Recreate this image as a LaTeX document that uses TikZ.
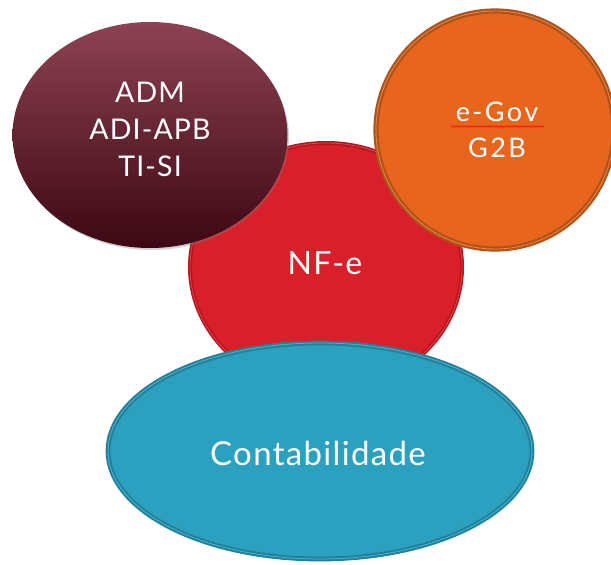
\documentclass[tikz,border=0pt]{standalone}
\usepackage{fontspec}
\setmainfont{Lato}[LetterSpace=4]
\newfontfamily\widefont{Lato}[LetterSpace=9]
\usetikzlibrary{shapes.geometric,shadows,decorations.pathmorphing}
\definecolor{redfill}{HTML}{D91F29}
\definecolor{redline}{HTML}{B5161E}
\definecolor{redlight}{HTML}{E0414A}
\definecolor{maroontop}{HTML}{8E4253}
\definecolor{maroonbot}{HTML}{3C0713}
\definecolor{orangefill}{HTML}{E8651E}
\definecolor{orangeline}{HTML}{B0531A}
\definecolor{orangelight}{HTML}{EE8447}
\definecolor{tealfill}{HTML}{2BA1BF}
\definecolor{tealline}{HTML}{21809A}
\definecolor{teallight}{HTML}{4DB3CC}
\tikzset{
  blob/.style={ellipse, inner sep=0pt},
  lbl/.style={text=white, align=center, inner sep=0pt},
}
\begin{document}
\begin{tikzpicture}[x=1pt,y=-1pt]
\useasboundingbox (0,0) rectangle (611,565);
% red circle (behind)
\node[blob, fill=redfill, draw=redline, line width=1.6pt, double=redlight, double distance=0.8pt,
  minimum width=272pt, minimum height=248pt] (red) at (326,267) {};
% maroon
\node[blob, top color=maroontop, bottom color=maroonbot,
  drop shadow={opacity=0.35, shadow xshift=1.5pt, shadow yshift=-2pt},
  minimum width=275pt, minimum height=226pt] (adm) at (150,135) {};
% orange
\node[blob, fill=orangefill, draw=orangeline, line width=2.2pt, double=orangelight, double distance=0.8pt,
  minimum width=238pt, minimum height=238pt] (gov) at (495,130) {};
% teal
\node[blob, fill=tealfill, draw=tealline, line width=2pt, double=teallight, double distance=0.8pt,
  minimum width=424pt, minimum height=216pt] (cont) at (320,451) {};
% labels
\node[lbl, font=\fontsize{28.5}{37}\selectfont] (admtxt) at (150,129) {ADM\\ADI-APB\\TI-SI};
\node[lbl, font=\widefont\fontsize{27}{36}\selectfont] (govtxt) at (497,130) {e-Gov\\G2B};
\node[lbl, font=\fontsize{32}{38}\selectfont] (nfetxt) at (325,263) {NF-e};
\node[lbl, font=\fontsize{33}{38}\selectfont] (conttxt) at (318,453) {Contabilidade};
% spell-check squiggle under e-Gov
\coordinate (sqa) at (451,126.5);
\coordinate (sqb) at (544,126.5);
\draw[red, line width=0.5pt, decorate, decoration={snake, segment length=2.5pt, amplitude=0.7pt}] (sqa) -- (sqb);
\end{tikzpicture}
\end{document}
